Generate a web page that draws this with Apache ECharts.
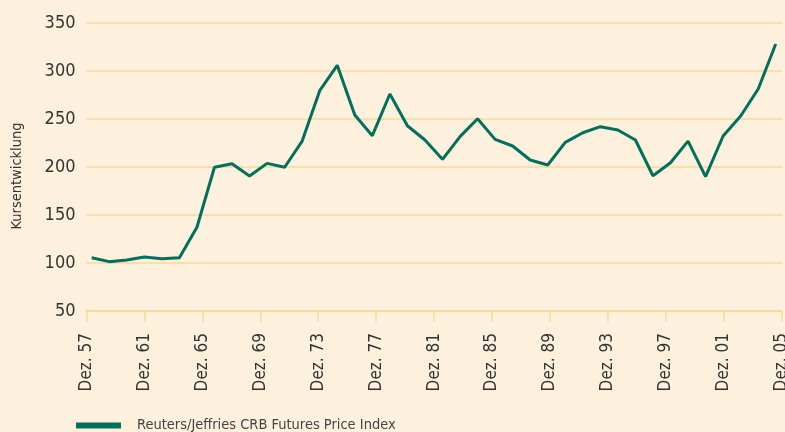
<!DOCTYPE html>
<html>
<head>
<meta charset="utf-8">
<script src="https://cdn.jsdelivr.net/npm/echarts@6/dist/echarts.min.js"></script>
<style>
  html, body { margin: 0; padding: 0; background: #fdf0dc; }
  #chart { width: 785px; height: 432px; }
</style>
</head>
<body>
<div id="chart"></div>
<script>
var years = ['Dez. 57', 'Dez. 58', 'Dez. 59', 'Dez. 60', 'Dez. 61', 'Dez. 62', 'Dez. 63', 'Dez. 64',
    'Dez. 65', 'Dez. 66', 'Dez. 67', 'Dez. 68', 'Dez. 69', 'Dez. 70', 'Dez. 71', 'Dez. 72',
    'Dez. 73', 'Dez. 74', 'Dez. 75', 'Dez. 76', 'Dez. 77', 'Dez. 78', 'Dez. 79', 'Dez. 80',
    'Dez. 81', 'Dez. 82', 'Dez. 83', 'Dez. 84', 'Dez. 85', 'Dez. 86', 'Dez. 87', 'Dez. 88',
    'Dez. 89', 'Dez. 90', 'Dez. 91', 'Dez. 92', 'Dez. 93', 'Dez. 94', 'Dez. 95', 'Dez. 96',
    'Dez. 97', 'Dez. 98', 'Dez. 99', 'Dez. 00', 'Dez. 01', 'Dez. 02', 'Dez. 03', 'Dez. 04',
    'Dez. 05'];

// Index-Werte
var crbValues = [105.5, 101.4, 103.1, 106.3, 104.5, 105.5, 137.2, 199.7, 203.4, 190.6,
    203.8, 199.7, 227, 279.5, 305.9, 254.2, 232.6, 276, 243, 228.1,
    208, 231.6, 250.3, 228.8, 221.9, 207.3, 202.1, 225.7, 235.7, 242,
    238.5, 228.1, 190.9, 204.5, 227, 189.9, 232.3, 253.1, 281.3, 328.1];

var seriesName = 'Reuters/Jeffries CRB Futures Price Index';
var yTicks = { min: 50, max: 350, interval: 50 };

var lineColor = '#00705c';
var gridColor = '#fbd896';
var textColor = '#333333';
var font = '"DejaVu Sans", sans-serif';
// schmale Schrift: font-stretch wird über fontWeight in den Canvas-Font geschoben
var narrow = 'normal condensed';

var chart = echarts.init(document.getElementById('chart'));

var points = crbValues.map(function (v, i) { return [i, v]; });

chart.setOption({
    backgroundColor: '#fdf0dc',
    animation: false,
    textStyle: { fontFamily: font },
    grid: { left: 86.5, right: 3.3, top: 23, bottom: 121, outerBoundsMode: 'none' },
    legend: {
        left: 76,
        top: 418,
        padding: 0,
        icon: 'rect',
        itemWidth: 45,
        itemHeight: 6,
        textStyle: { color: '#444', fontSize: 14.5, fontFamily: font, fontWeight: narrow, padding: [0, 0, 0, 11] },
        data: [{ name: seriesName, itemStyle: { color: lineColor } }]
    },
    xAxis: [
        {
            type: 'category',
            data: years,
            boundaryGap: false,
            axisLine: { lineStyle: { color: gridColor, width: 1.5 } },
            axisTick: { interval: 3, length: 11, lineStyle: { color: gridColor, width: 1.5 } },
            axisLabel: {
                interval: 3,
                rotate: 90,
                margin: 22,
                fontSize: 17,
                color: textColor,
                fontFamily: font,
                fontWeight: narrow
            },
            splitLine: { show: false }
        },
        {
            type: 'value',
            show: false,
            min: -0.296,
            max: 39.34,
            splitLine: { show: false }
        }
    ],
    yAxis: {
        type: 'value',
        min: yTicks.min,
        max: yTicks.max,
        interval: yTicks.interval,
        name: 'Kursentwicklung',
        nameLocation: 'middle',
        nameGap: 62,
        nameTextStyle: { fontSize: 14.5, color: textColor, fontFamily: font, fontWeight: narrow, padding: [0, 18, 0, 0] },
        axisLine: { show: false },
        axisTick: { show: false },
        axisLabel: { fontSize: 18, color: textColor, margin: 11, fontFamily: font, fontWeight: narrow },
        splitLine: { lineStyle: { color: gridColor, width: 1.5 } }
    },
    series: [
        {
            name: seriesName,
            type: 'line',
            xAxisIndex: 1,
            data: points,
            symbol: 'none',
            lineStyle: { color: lineColor, width: 3 },
            itemStyle: { color: lineColor }
        }
    ]
});
</script>
</body>
</html>
